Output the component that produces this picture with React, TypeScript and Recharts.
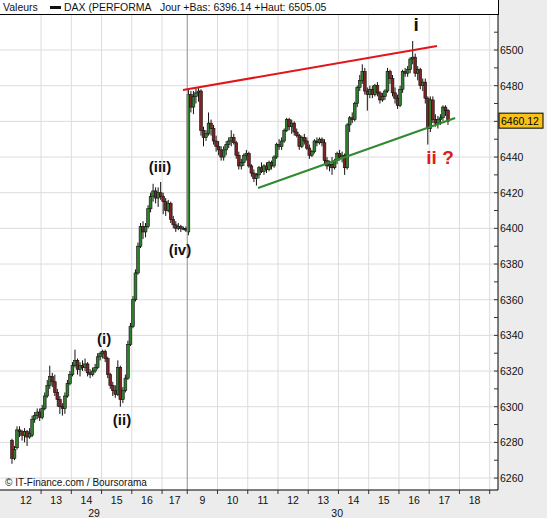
import React from "react";
import { ComposedChart, Bar, XAxis, YAxis, CartesianGrid, ReferenceLine, ReferenceDot } from "recharts";

// 5-minute candles. Day 29 starts at 12:00 (slot 0), day 30 at 9:00 (slot 70).
const day29Open = [
  6281, 6271, 6277, 6287, 6286, 6284, 6286, 6283, 6284, 6293, 6295, 6297, 6294, 6299, 6306, 6312, 6317, 6314, 6308, 6304,
  6300, 6299, 6306, 6313, 6318, 6323, 6326, 6321, 6323, 6322, 6324, 6319, 6318, 6320, 6322, 6328, 6330, 6331, 6327, 6318,
  6312, 6309, 6307, 6322, 6304, 6309, 6316, 6335, 6345, 6360, 6375, 6390, 6401, 6398, 6401, 6411, 6418, 6421, 6417, 6420,
  6418, 6415, 6410, 6414, 6405, 6402, 6400, 6401, 6400, 6400,
];
const day29High = [
  6282, 6278, 6289, 6289, 6287, 6288, 6287, 6288, 6295, 6297, 6299, 6299, 6301, 6308, 6315, 6323, 6319, 6318, 6310, 6306,
  6302, 6308, 6315, 6320, 6325, 6332, 6327, 6325, 6326, 6327, 6325, 6321, 6322, 6324, 6330, 6331, 6332, 6332, 6328, 6319,
  6314, 6312, 6326, 6323, 6311, 6318, 6337, 6347, 6362, 6377, 6392, 6403, 6404, 6403, 6413, 6420, 6425, 6423, 6423, 6426,
  6420, 6417, 6416, 6415, 6407, 6404, 6403, 6402, 6401, 6401,
];
const day29Low = [
  6268, 6270, 6276, 6283, 6281, 6280, 6278, 6282, 6283, 6291, 6293, 6292, 6293, 6298, 6305, 6310, 6311, 6306, 6300, 6296,
  6295, 6296, 6305, 6312, 6317, 6322, 6318, 6317, 6320, 6320, 6317, 6316, 6317, 6319, 6321, 6326, 6327, 6325, 6316, 6310,
  6306, 6305, 6306, 6300, 6302, 6308, 6315, 6334, 6344, 6359, 6374, 6389, 6394, 6395, 6400, 6409, 6415, 6414, 6412, 6416,
  6408, 6407, 6409, 6403, 6400, 6398, 6399, 6398, 6399, 6398,
];
const day29Close = [
  6271, 6276, 6287, 6286, 6284, 6286, 6283, 6285, 6293, 6295, 6297, 6294, 6299, 6306, 6312, 6317, 6314, 6308, 6304, 6300,
  6299, 6306, 6313, 6318, 6323, 6326, 6321, 6323, 6322, 6324, 6319, 6318, 6320, 6322, 6328, 6330, 6331, 6327, 6318, 6312,
  6309, 6307, 6322, 6304, 6309, 6316, 6335, 6345, 6360, 6375, 6390, 6401, 6398, 6401, 6411, 6418, 6421, 6417, 6420, 6418,
  6415, 6410, 6414, 6405, 6402, 6400, 6401, 6400, 6400, 6399,
];

const day30Open = [
  6398, 6475, 6468, 6474, 6476, 6477, 6455, 6451, 6453, 6459, 6456, 6449, 6446, 6444, 6440, 6444, 6447, 6449, 6451, 6448,
  6441, 6435, 6437, 6441, 6442, 6435, 6431, 6428, 6430, 6434, 6432, 6435, 6433, 6437, 6435, 6440, 6447, 6446, 6449, 6455,
  6461, 6457, 6459, 6454, 6452, 6446, 6451, 6449, 6445, 6441, 6443, 6449, 6448, 6450, 6448, 6438, 6435, 6436, 6434, 6438,
  6442, 6440, 6441, 6434, 6458, 6462, 6461, 6470, 6479, 6483, 6488, 6477, 6475, 6478, 6475, 6480, 6476, 6472, 6474, 6477,
  6488, 6484, 6476, 6473, 6469, 6478, 6488, 6487, 6489, 6495, 6496, 6487, 6489, 6480, 6482, 6473, 6456, 6472, 6461, 6459,
  6461, 6462, 6468, 6466,
];
const day30High = [
  6478, 6477, 6477, 6479, 6479, 6478, 6457, 6455, 6465, 6461, 6458, 6452, 6449, 6446, 6446, 6449, 6451, 6455, 6453, 6449,
  6443, 6439, 6442, 6444, 6443, 6436, 6433, 6431, 6435, 6437, 6436, 6437, 6438, 6438, 6441, 6448, 6450, 6451, 6456, 6462,
  6462, 6461, 6460, 6456, 6453, 6452, 6453, 6451, 6447, 6444, 6450, 6451, 6451, 6451, 6450, 6440, 6438, 6440, 6439, 6443,
  6444, 6443, 6442, 6459, 6463, 6465, 6471, 6480, 6486, 6492, 6490, 6479, 6480, 6480, 6481, 6482, 6477, 6476, 6478, 6490,
  6489, 6486, 6479, 6475, 6480, 6489, 6490, 6491, 6496, 6505.05, 6498, 6491, 6490, 6484, 6484, 6474, 6474, 6474, 6464, 6463,
  6464, 6469, 6469, 6467,
];
const day30Low = [
  6396.14, 6465, 6464, 6470, 6471, 6452, 6446, 6449, 6452, 6452, 6447, 6443, 6441, 6438, 6438, 6441, 6445, 6446, 6447, 6439,
  6433, 6433, 6435, 6438, 6434, 6429, 6426, 6424, 6428, 6431, 6430, 6431, 6432, 6433, 6434, 6439, 6444, 6444, 6448, 6454,
  6455, 6453, 6452, 6451, 6444, 6445, 6447, 6444, 6439, 6440, 6442, 6446, 6447, 6446, 6436, 6433, 6432, 6430, 6433, 6436,
  6438, 6437, 6430, 6433, 6454, 6459, 6460, 6468, 6477, 6481, 6475, 6466, 6473, 6473, 6474, 6474, 6470, 6471, 6472, 6476,
  6481, 6474, 6470, 6467, 6468, 6476, 6485, 6485, 6487, 6492, 6485, 6483, 6478, 6477, 6470, 6447, 6454, 6459, 6457, 6456,
  6458, 6460, 6463, 6458,
];
const day30Close = [
  6475, 6468, 6474, 6476, 6477, 6455, 6451, 6453, 6459, 6456, 6449, 6446, 6444, 6440, 6444, 6447, 6449, 6451, 6448, 6441,
  6435, 6437, 6441, 6442, 6435, 6431, 6428, 6430, 6434, 6432, 6435, 6433, 6437, 6435, 6440, 6447, 6446, 6449, 6455, 6461,
  6457, 6459, 6454, 6452, 6446, 6451, 6449, 6445, 6441, 6443, 6449, 6448, 6450, 6448, 6438, 6435, 6436, 6434, 6438, 6442,
  6440, 6441, 6434, 6458, 6462, 6461, 6470, 6479, 6483, 6488, 6477, 6475, 6478, 6475, 6480, 6476, 6472, 6474, 6477, 6488,
  6484, 6476, 6473, 6469, 6478, 6488, 6487, 6489, 6495, 6496, 6487, 6489, 6480, 6482, 6473, 6456, 6472, 6461, 6459, 6461,
  6462, 6468, 6466, 6460.12,
];

const day29Hours = ["12", "13", "14", "15", "16", "17"];
const day30Hours = ["9", "10", "11", "12", "13", "14", "15", "16", "17", "18"];
const dayNames = ["29", "30"];
const dayLabelSlots = [33, 129.5];

// trend lines drawn on the chart (slot, price)
const upperLine = [{ x: 68.3, y: 6477.6 }, { x: 169.1, y: 6502.2 }];
const lowerLine = [{ x: 98.1, y: 6422.6 }, { x: 176.3, y: 6461.9 }];

// wave labels (slot, price, text, colour)
const waveLabels = [
  { x: 37, y: 6338, text: "(i)", color: "#111", size: 15 },
  { x: 44.1, y: 6293, text: "(ii)", color: "#111", size: 15 },
  { x: 59.2, y: 6434.4, text: "(iii)", color: "#111", size: 15 },
  { x: 67.1, y: 6387.8, text: "(iv)", color: "#111", size: 15 },
  { x: 160.8, y: 6514.6, text: "i", color: "#111", size: 19 },
  { x: 170.3, y: 6440, text: "ii ?", color: "#e01a1a", size: 19 },
];

const DAY30_START = 70;
const SLOTS_PER_HOUR = 12;
const FONT = "'Liberation Sans', Arial, sans-serif";

const candles = [
  ...day29Close.map((c, i) => ({ slot: i + 0.5, open: day29Open[i], high: day29High[i], low: day29Low[i], close: c })),
  ...day30Close.map((c, i) => ({
    slot: DAY30_START + i + 0.5,
    open: day30Open[i],
    high: day30High[i],
    low: day30Low[i],
    close: c,
  })),
].map((d) => ({ ...d, range: [d.low, d.high] }));

const lastClose = day30Close[day30Close.length - 1];
const dayLow = Math.min(...day30Low);
const dayHigh = Math.max(...day30High);

// hour boundaries and label positions on the slot axis
const hourBounds: number[] = [];
const hourLabelAt = new Map<number, string>();
day29Hours.forEach((h, i) => {
  const start = i * SLOTS_PER_HOUR;
  const end = Math.min(start + SLOTS_PER_HOUR, DAY30_START);
  hourLabelAt.set((start + end) / 2, h);
  if (end < DAY30_START) hourBounds.push(end);
});
hourBounds.push(DAY30_START);
day30Hours.forEach((h, i) => {
  const start = DAY30_START + i * SLOTS_PER_HOUR;
  hourLabelAt.set(start + SLOTS_PER_HOUR / 2, h);
  hourBounds.push(start + SLOTS_PER_HOUR);
});
const dayLabelAt = new Map<number, string>(dayLabelSlots.map((s, i) => [s, dayNames[i]]));
const xTicks = [...hourBounds, ...hourLabelAt.keys(), ...dayLabelSlots];

const priceTicks: number[] = [];
for (let p = 6260; p <= 6510; p += 10) priceTicks.push(p);
const priceGrid = priceTicks.filter((p) => p % 20 === 0);

const renderCandle = (props: any) => {
  const { x, y, width, height, payload } = props;
  if (!payload) return null;
  const { open, close, high, low } = payload;
  const cx = x + width / 2;
  const top = Math.min(y, y + height);
  const h = Math.abs(height);
  const k = high === low ? 0 : h / (high - low);
  const bodyTop = top + (high - Math.max(open, close)) * k;
  const bodyH = Math.max(1, Math.abs(open - close) * k);
  const up = close >= open;
  return (
    <g>
      <line x1={cx} x2={cx} y1={top} y2={top + h} stroke="#111" strokeWidth={1} />
      <rect
        x={cx - 1.4}
        y={bodyTop}
        width={2.8}
        height={bodyH}
        fill={up ? "#2f7f2f" : "#7e2222"}
        stroke="#111"
        strokeWidth={0.6}
      />
    </g>
  );
};

const renderTimeTick = (props: any) => {
  const { x, y, payload } = props;
  const v = payload.value;
  const hour = hourLabelAt.get(v);
  const day = dayLabelAt.get(v);
  if (hour)
    return (
      <text x={x} y={y + 14} textAnchor="middle" fontSize={10.5} fontFamily={FONT} fill="#111">
        {hour}
      </text>
    );
  if (day)
    return (
      <text x={x} y={y + 27} textAnchor="middle" fontSize={10.5} fontFamily={FONT} fill="#111">
        {day}
      </text>
    );
  return <line x1={x} x2={x} y1={y} y2={y + 4} stroke="#333" />;
};

const renderPriceTick = (props: any) => {
  const { x, y, payload } = props;
  const v = payload.value;
  if (v === lastClose) {
    return (
      <g>
        <rect x={x + 1} y={y - 8} width={44} height={15} fill="#f7c21c" stroke="#000" strokeWidth={1} />
        <text x={x + 3} y={y + 3.5} fontSize={10.5} fontFamily={FONT} fill="#000">
          {v.toFixed(2)}
        </text>
      </g>
    );
  }
  const showLabel = v % 20 === 0 && Math.abs(v - lastClose) > 8;
  return (
    <g>
      <line x1={x - 4} x2={x} y1={y} y2={y} stroke="#333" />
      {showLabel && (
        <text x={x + 2} y={y + 4} fontSize={10.5} fontFamily={FONT} fill="#111">
          {v}
        </text>
      )}
    </g>
  );
};

export default function App() {
  return (
    <div
      style={{
        position: "absolute",
        left: 0,
        top: 0,
        width: 547,
        height: 518,
        background: "#ececec",
        overflow: "hidden",
        fontFamily: FONT,
      }}
    >
      <ComposedChart width={547} height={518} data={candles} margin={{ top: 14, right: 0, bottom: 0, left: 0 }}>
        <CartesianGrid stroke="#dcdcdc" fill="#fff" horizontalValues={priceGrid} verticalValues={hourBounds} />
        <XAxis
          dataKey="slot"
          type="number"
          domain={[-4.3, 193.3]}
          allowDataOverflow
          ticks={xTicks}
          interval={0}
          tick={renderTimeTick}
          tickLine={false}
          tickSize={0}
          tickMargin={0}
          axisLine={{ stroke: "#000" }}
          height={28}
        />
        <YAxis
          orientation="right"
          type="number"
          domain={[6253.3, 6520.2]}
          allowDataOverflow
          ticks={[...priceTicks, lastClose]}
          interval={0}
          tick={renderPriceTick}
          tickLine={false}
          tickSize={0}
          tickMargin={0}
          axisLine={{ stroke: "#000" }}
          width={49}
        />
        <ReferenceLine x={DAY30_START} stroke="#9a9a9a" />
        <Bar dataKey="range" barSize={3} shape={renderCandle} isAnimationActive={false} />
        <ReferenceLine segment={upperLine} stroke="#e0161b" strokeWidth={2} />
        <ReferenceLine segment={lowerLine} stroke="#2e8b2e" strokeWidth={2} />
        {waveLabels.map((w) => (
          <ReferenceDot
            key={w.text}
            x={w.x}
            y={w.y}
            r={1}
            fill="none"
            stroke="none"
            label={{
              value: w.text,
              position: "center",
              fill: w.color,
              fontSize: w.size,
              fontWeight: "bold",
              fontFamily: FONT,
            }}
          />
        ))}
      </ComposedChart>
      <div
        style={{
          position: "absolute",
          left: 0,
          top: 0,
          width: 498,
          height: 14,
          background: "#fff",
          borderBottom: "1px solid #000",
          borderRight: "1px solid #000",
          fontSize: 10.5,
          lineHeight: "14px",
          color: "#111",
          whiteSpace: "nowrap",
        }}
      >
        <span style={{ position: "absolute", left: 3 }}>Valeurs</span>
        <span style={{ position: "absolute", left: 50, top: 6, width: 11, height: 3, background: "#111" }} />
        <span style={{ position: "absolute", left: 64 }}>DAX (PERFORMA</span>
        <span style={{ position: "absolute", left: 160 }}>
          Jour +Bas: {dayLow.toFixed(2)} +Haut: {dayHigh.toFixed(2)}
        </span>
      </div>
      <div style={{ position: "absolute", left: 5, top: 477, fontSize: 10, color: "#111", whiteSpace: "nowrap" }}>
        © IT-Finance.com / Boursorama
      </div>
    </div>
  );
}
